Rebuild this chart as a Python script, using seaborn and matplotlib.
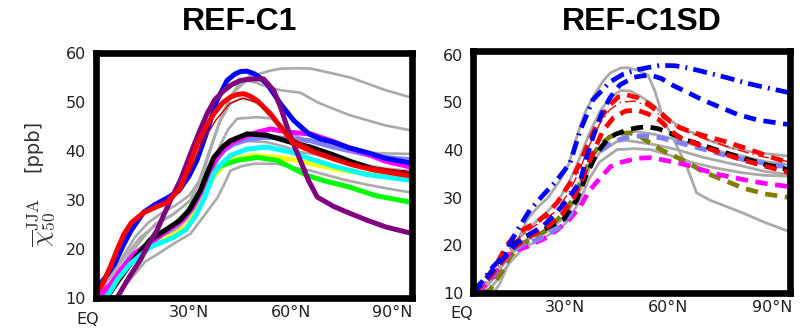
import matplotlib
matplotlib.use("Agg")
import matplotlib.pyplot as plt
import matplotlib.transforms as mtransforms
import seaborn as sns

# ---------------- data: left panel (REF-C1) ----------------
gray1_lat = [2.4, 6, 10, 14, 18, 22, 26, 30, 33, 36, 39, 42, 45, 48, 51, 54, 57, 62, 66, 72.6, 78, 82.4, 88, 95.6]
gray1_val = [11.5, 14, 18, 22.5, 25.5, 27.5, 29, 31, 34, 40, 46, 51, 54, 55.5, 55.9, 56.5, 56.9, 57, 56.9, 55.9, 55, 53.9, 52.5, 51]
gray2_lat = [4, 8, 12, 16, 20, 25, 30.4, 34, 37, 40, 43, 47, 50, 53, 57, 62.8, 68, 72.6, 77, 82.4, 88, 95.6]
gray2_val = [10.5, 14, 18.5, 22, 25.2, 27, 30, 35, 42, 48, 52, 54.5, 54, 53.2, 52.5, 52, 50, 48.7, 47.5, 46.4, 45.3, 44.3]
gray3_lat = [3, 7, 11, 15.6, 20.6, 25.5, 30.4, 33, 36, 39, 42.2, 45, 48.1, 51, 54, 58, 62, 68, 75, 82, 88, 95.6]
gray3_val = [11, 14.5, 18.5, 22.5, 25.2, 27.3, 30, 34, 40, 46, 49.8, 50.8, 50.5, 49.5, 47, 44, 42, 40, 38.5, 37.3, 36.5, 36]
gray4_lat = [4, 8, 12, 16, 21, 25.5, 30, 33, 36, 39, 41.5, 44.2, 50.1, 55, 58, 62, 68, 75, 82, 88, 95.6]
gray4_val = [10.5, 13.5, 17.5, 20.5, 22.5, 23.9, 26.5, 30, 35.5, 41, 44.5, 46.7, 47, 46.7, 45, 43, 41.5, 40.5, 39.8, 39.6, 39.5]
gray5_lat = [5, 9, 13, 17, 22, 27, 31, 34, 37, 40, 43, 46.1, 53, 58, 62, 67.7, 74, 82.4, 88, 95.6]
gray5_val = [10.5, 14, 18, 20.5, 22.5, 24.5, 27.5, 31.5, 36.5, 39.8, 41.5, 42.2, 41.9, 41, 40, 39.3, 38, 36.5, 35.5, 34.5]
gray6_lat = [8, 11, 14, 17, 20.6, 25, 30.4, 34, 38.3, 40.5, 42.2, 45.5, 49.1, 56, 60, 65.8, 70, 76, 82, 88, 95.6]
gray6_val = [10, 12.5, 15, 17.5, 19, 21, 23.2, 26.5, 30.5, 33.5, 36.1, 37, 37.5, 37.5, 36.8, 36.1, 35.3, 34.2, 33.3, 32.5, 31.6]

yellow_lat = [5, 9, 12.7, 18.6, 25.5, 29, 32, 34.5, 37.3, 40, 42.2, 49.1, 56, 62, 68, 75, 82, 88, 95.6]
yellow_val = [10, 14, 17.5, 21, 23, 24.5, 27.5, 31, 35, 37, 38.2, 39.2, 38.8, 38.2, 37.2, 36.2, 35.5, 35, 34.5]
green_lat = [4.8, 8, 12, 16, 19.6, 25, 29.4, 33, 36, 39, 44.2, 50.1, 56, 59.9, 64.8, 70, 77.5, 85, 95.6]
green_val = [10, 13, 17, 20, 22.8, 24.5, 27.5, 31.5, 35, 37, 38.2, 38.8, 38.2, 36.8, 35.1, 34, 32.7, 31, 29.6]
periw_lat = [4, 7, 10, 13.7, 18.6, 23.5, 28, 31, 33.3, 35.5, 38.2, 40.5, 43.1, 47, 52, 56, 59.9, 65.8, 72, 77, 83, 89, 95.6]
periw_val = [10.5, 13, 16, 19, 21.3, 23.7, 26, 28.5, 31.3, 35, 38.5, 40.3, 41.5, 42.4, 42.9, 42.8, 42.6, 42.2, 41, 40.2, 39.3, 38.7, 38.3]
magenta_lat = [3.8, 7, 10, 13.7, 18.6, 23.5, 28, 31, 33.3, 35.5, 38.2, 40.5, 43.1, 47, 50, 54, 59.9, 65.8, 72.6, 77, 82.4, 88, 95.6]
magenta_val = [10.9, 13, 16, 19, 21.5, 23.8, 26, 28.5, 31.5, 35.5, 38.8, 40.7, 42, 43.2, 43.9, 44.6, 43.9, 43.6, 42, 40.8, 39.5, 38, 36.8]
black_lat = [5.8, 9, 13.7, 18.6, 23.5, 27, 30, 33.3, 35.3, 37.3, 40, 42.2, 47.1, 53, 59.9, 65.8, 72.6, 77.5, 84, 90, 95.6]
black_val = [10.2, 13.5, 18, 22, 24.2, 25.8, 28, 32, 35.5, 38.8, 41, 42.2, 43.6, 43.3, 41.9, 40.9, 39.3, 38, 36.5, 35.8, 35.5]
cyan_lat = [5.8, 9, 12.7, 18.6, 25.5, 29, 32, 34.5, 37.3, 40, 42.2, 47.1, 53, 59.9, 65.8, 72.6, 82.4, 95.6]
cyan_val = [10.3, 14, 17.1, 20.5, 22.5, 24, 27, 30.5, 35.5, 37.8, 39.2, 40.5, 40.9, 39.9, 38.5, 37, 35.3, 34.1]
blue_lat = [2.4, 5, 8, 10.7, 13, 16.6, 20, 23.5, 27, 30, 32.3, 35, 38.3, 41.2, 43.5, 45.1, 47, 49.1, 51, 53, 57, 60.9, 65.3, 69, 72.6, 77, 82.4, 88, 95.6]
blue_val = [12, 14, 17, 21, 24, 27.6, 29.2, 30.5, 32, 35, 38.2, 43.5, 50.5, 54.5, 55.8, 56.3, 56.4, 55.9, 55, 53.8, 49.7, 46.3, 43.6, 42.5, 41.9, 40.8, 39.8, 38.6, 37.6]
purple_lat = [8.8, 12, 15.6, 18, 20.6, 22.5, 24.5, 27.4, 30.4, 33, 35.3, 37.5, 40.2, 42.5, 45.1, 48.5, 52, 55, 57, 58.9, 60.8, 62.8, 65.2, 67.8, 72.6, 77, 82.4, 88, 95.6]
purple_val = [10.2, 14, 17.8, 21, 24, 27, 30, 34.1, 39.5, 44, 47.7, 50.5, 52.4, 53.6, 54.5, 54.8, 54.8, 52.4, 49, 45, 41.5, 38.2, 34.1, 30.7, 28.8, 27.5, 26, 24.6, 23.3]
red_lat = [2.4, 4.5, 6.8, 8.8, 10.7, 13, 16.6, 20, 23.5, 27.4, 30, 32.4, 35, 37.3, 40, 42.2, 44, 46.1, 48, 50.1, 54, 57, 60.9, 65.8, 72.6, 78, 84, 90, 95.6]
red_val = [11, 13, 16.5, 20, 23, 25.5, 27.5, 28.6, 29.6, 32.5, 37, 41.6, 45, 47.7, 50, 51.1, 51.6, 51.8, 51.3, 50.4, 47.7, 45, 41.6, 40.2, 38.5, 37.3, 36.3, 35.6, 35]
red2_lat = [30, 34, 38, 42, 46, 50, 54, 60, 70, 80, 95.6]
red2_val = [35.5, 42, 46.5, 49.8, 50.9, 50, 47.5, 42.8, 39.2, 37.2, 35.8]

# ---------------- data: right panel (REF-C1SD) ----------------
sgray1_lat = [9.2, 11, 14, 16.8, 19, 22, 25, 28.6, 31, 33.4, 35.5, 38.2, 41, 43.1, 46, 48, 51, 54, 56, 57.5, 58.4, 60, 62, 65.3, 68.2, 72, 77, 81.6, 88, 95.5]
sgray1_val = [10, 12, 17, 22, 25.5, 28, 30, 33.8, 37, 42.9, 47.5, 51.3, 54.5, 56.2, 57.2, 57.3, 56.8, 55.8, 52.5, 49, 46.4, 44.3, 41.5, 36.5, 31, 29.5, 28.1, 26.8, 24.8, 22.8]
sgray2_lat = [5, 8, 12, 16, 20, 24, 28, 31, 34, 37, 40, 43, 46, 49, 52, 55, 58, 62, 66, 72, 78, 85, 95.5]
sgray2_val = [10, 12, 16, 21, 24, 26.5, 29.5, 33, 38, 43.5, 48, 51, 52.5, 52.4, 51.2, 49.8, 47.8, 45.5, 44, 42, 40.5, 39.5, 38.7]
sgray3_lat = [4, 8, 12, 16, 20, 25, 30, 34, 37, 40, 45, 48, 52.8, 57, 62.4, 70, 76, 81.8, 88, 95.5]
sgray3_val = [10, 12.5, 16.5, 19.5, 21.5, 23, 26, 31, 36, 39.5, 41.8, 42, 41.5, 41, 40.1, 38.5, 37.5, 36.6, 35.5, 34.8]
sgray4_lat = [7, 10, 14, 18, 22, 26, 30, 34, 37, 40, 45, 50, 54.7, 60, 67.3, 74, 81.8, 88, 95.5]
sgray4_val = [10, 12.5, 16.5, 19.5, 21, 22.5, 24.5, 29, 34, 37.5, 40.1, 40.3, 40.1, 39, 37.3, 36.2, 35.2, 34.7, 34.5]
sgray5_lat = [5, 9, 13, 17, 21, 25, 29, 33, 36, 39, 43.1, 47, 50.8, 56, 62.4, 70, 76, 81.8, 88, 95.5]
sgray5_val = [10, 13, 17.5, 20.5, 22, 23.5, 25.5, 30, 35.5, 40, 42.9, 43.7, 43.9, 43.3, 42.2, 40.5, 39.5, 38.7, 37.6, 36.9]

olive_lat = [6, 8.2, 11.9, 14, 18, 21.8, 24.5, 27.6, 30.5, 33.4, 35.5, 37.5, 40, 43, 46, 48.8, 51.5, 54.6, 58, 61.5, 65.3, 70, 75, 81.8, 88, 95.5]
olive_val = [10, 10.7, 14.8, 17.7, 20.5, 21.8, 23.2, 25.3, 27.5, 31.6, 35, 38.5, 41, 42.8, 43.5, 43.6, 43, 41.5, 40, 38.8, 37.5, 35.5, 34, 32, 30.8, 30]
smag_lat = [4.4, 8, 11, 14, 16.5, 18.9, 21, 23.7, 27.6, 31, 34.3, 37, 40, 43.1, 45.5, 48.8, 51.5, 54.6, 58, 62, 65.3, 70, 75, 81.8, 88, 95.5]
smag_val = [10, 12.5, 15.5, 18.4, 19.2, 19.7, 20.5, 21.3, 23.2, 25.3, 28.1, 31.5, 34, 36.5, 37.3, 37.9, 38.3, 38.4, 38, 37.4, 36.9, 35.8, 34.8, 33.8, 33, 32.3]
speriw_lat = [3.5, 7, 11, 14, 18, 21.8, 25, 28.5, 31.5, 35, 38, 40.5, 43, 46, 48.8, 52, 57.5, 61, 65.3, 70, 75, 81.8, 88, 95.5]
speriw_val = [10, 12.3, 15.5, 18.5, 20.3, 21.1, 22.5, 23.9, 26.5, 33.7, 38, 40, 41.3, 42.3, 42.8, 43, 42.6, 42, 41.1, 40.2, 39.2, 38, 37.2, 36.3]
sblack_lat = [3.2, 7, 11, 14, 18, 23.7, 29.5, 33.4, 36, 39.2, 42, 44.5, 47.9, 51, 53.7, 57, 61, 65.3, 70, 75, 81.8, 88, 95.5]
sblack_val = [10, 12.5, 16, 19.8, 21.8, 23.3, 25.4, 29.6, 34.5, 39.4, 42, 43.3, 44.2, 44.7, 44.9, 44.5, 43.4, 42.1, 41, 39.8, 38.3, 37, 35.8]
sred2_lat = [3.2, 7, 11, 15, 20, 25, 29, 32.5, 35, 37.5, 40.9, 44, 47.5, 50.8, 54, 57, 60, 63.3, 68, 74, 80, 86, 95.5]
sred2_val = [10, 12.5, 16, 19.5, 22, 24, 26.5, 30, 34, 38.5, 44, 46.8, 48.2, 48.4, 47.6, 46.5, 44.5, 42.6, 41.3, 39.7, 38.3, 37, 35.2]
sred_dd_lat = [3.5, 8, 12, 17, 22, 27, 31, 34, 37, 40, 43, 46, 50, 54, 58, 63, 70, 78, 86, 95.5]
sred_dd_val = [10, 13, 17.5, 22, 24.5, 27, 31, 35.5, 41, 45.5, 48.5, 50, 50.3, 49.2, 47, 44.5, 42.5, 40.5, 38.8, 37.5]
sred1_lat = [3.2, 6, 10.2, 13, 16, 21.8, 24.5, 27.6, 31.4, 34.3, 37, 40, 43, 45.5, 47.9, 51, 54, 57.5, 60.5, 63.3, 68, 73, 77.8, 84, 90.3, 95.5]
sred1_val = [10, 12, 16.3, 20, 22.6, 24.9, 26.5, 28.9, 33.1, 37.3, 42, 46.5, 49.5, 51.2, 51.6, 51, 49.8, 48, 46, 44.7, 43.5, 42.5, 41.5, 40, 38.4, 37.3]
sblue2_lat = [3.2, 7, 11, 16, 20, 23.5, 27, 30.5, 34.3, 36, 38, 40.5, 43, 45.9, 50, 54.6, 58, 61.5, 65.3, 70, 75, 80, 86, 95.5]
sblue2_val = [10, 13, 16.5, 20.5, 22.5, 24, 26.5, 29.5, 33.3, 38, 42.6, 47.5, 51, 53.7, 55.3, 55.8, 55, 53.5, 52.2, 50.5, 49, 47.5, 46.3, 45.3]
sblue1_lat = [3.2, 6, 9, 11.9, 15.5, 19.7, 23.5, 27.6, 31.4, 34.3, 38, 43, 47, 51, 57.5, 62, 66, 71, 77, 83, 89, 95.5]
sblue1_val = [10.5, 12.5, 15.5, 17.6, 22.5, 27.4, 30.5, 33.7, 37.3, 44, 50.5, 54.3, 56, 56.9, 57.8, 57.7, 57.2, 56.3, 55.2, 54, 53, 52]

ytick_vals = [10, 20, 30, 40, 50, 60]
xtick_vals = [30, 60, 90]
xtick_labels = ["30°N", "60°N", "90°N"]
titles = ["REF-C1", "REF-C1SD"]

# ---------------- figure ----------------
sns.set_theme(style="white")
plt.rcParams["font.family"] = ["DejaVu Sans"]
plt.rcParams["mathtext.fontset"] = "cm"

fig = plt.figure(figsize=(8.08, 3.31), dpi=100)
axL = fig.add_axes([0.1182, 0.0982, 0.3911, 0.7402])
axR = fig.add_axes([0.5854, 0.1148, 0.3923, 0.7311])

GRAY = "#aaaaaa"
lw_c = 3.6
lw_g = 1.9

def line(ax, x, y, color, lw, ls="-"):
    sns.lineplot(x=x, y=y, ax=ax, color=color, linewidth=lw, linestyle=ls,
                 estimator=None, sort=False, legend=False)

# left panel
for la, va in [(gray1_lat, gray1_val), (gray2_lat, gray2_val), (gray3_lat, gray3_val),
               (gray4_lat, gray4_val), (gray5_lat, gray5_val), (gray6_lat, gray6_val)]:
    line(axL, la, va, GRAY, lw_g)
line(axL, yellow_lat, yellow_val, "#ffff00", lw_c)
line(axL, green_lat, green_val, "#00ff00", lw_c)
line(axL, periw_lat, periw_val, "#8080ff", lw_c)
line(axL, magenta_lat, magenta_val, "#ff00ff", lw_c)
line(axL, black_lat, black_val, "#000000", lw_c)
line(axL, cyan_lat, cyan_val, "#00ffff", lw_c)
line(axL, blue_lat, blue_val, "#0000ff", lw_c)
line(axL, purple_lat, purple_val, "#800080", lw_c)
line(axL, red_lat, red_val, "#ff0000", lw_c)
line(axL, red2_lat, red2_val, "#cc0000", 1.0)

# right panel
dash = (0, (2.6, 1.6))
for la, va in [(sgray1_lat, sgray1_val), (sgray2_lat, sgray2_val), (sgray3_lat, sgray3_val),
               (sgray4_lat, sgray4_val), (sgray5_lat, sgray5_val)]:
    line(axR, la, va, GRAY, 2.0)
line(axR, olive_lat, olive_val, "#808000", 3.4, dash)
line(axR, smag_lat, smag_val, "#ff00ff", 3.4, dash)
line(axR, speriw_lat, speriw_val, "#8080ff", 3.4, dash)
line(axR, sblack_lat, sblack_val, "#000000", 3.4, dash)
line(axR, sred2_lat, sred2_val, "#ff0000", 3.4, dash)
line(axR, sred_dd_lat, sred_dd_val, "#ff0000", 1.0, (0, (8, 3, 1, 3)))
line(axR, sred1_lat, sred1_val, "#ff0000", 3.4, dash)
line(axR, sblue2_lat, sblue2_val, "#0000ff", 3.4, dash)
line(axR, sblue1_lat, sblue1_val, "#0000ff", 3.4, (0, (3.0, 1.3, 0.4, 1.3)))

limits = [(axL, (2.4, 95.6), (10, 60)), (axR, (3.2, 95.3), (10, 60.8))]
for ax, xl, yl in limits:
    ax.set_xlim(*xl)
    ax.set_ylim(*yl)
    ax.set_xticks(xtick_vals)
    ax.set_xticklabels(xtick_labels)
    ax.set_yticks(ytick_vals)
    ax.set_yticklabels([str(v) for v in ytick_vals])
    ax.tick_params(axis="both", length=0, labelsize=11.5, labelcolor="#222222")
    ax.tick_params(axis="x", pad=5)
    ax.tick_params(axis="y", pad=7)
    ax.set_xlabel("")
    ax.set_ylabel("")
    ax.grid(False)
    for s in ax.spines.values():
        s.set_visible(True)
        s.set_color("black")
        s.set_linewidth(4.8)
    trans = mtransforms.blended_transform_factory(ax.transData, ax.transAxes)
    ax.text(0, -0.085, "EQ", transform=trans, ha="center", va="center",
            fontsize=11.5, color="#222222", clip_on=False)

# y-axis label: math symbol part and unit part
fig.text(41 / 808, 1 - 222 / 331, r"$\overline{\chi}^{\rm JJA}_{50}$",
         rotation=90, ha="center", va="center", fontsize=18, color="#333333")
fig.text(33 / 808, 1 - 146 / 331, "[ppb]",
         rotation=90, ha="center", va="center", fontsize=14, color="#333333")

for xc, t in zip([240 / 808, 642 / 808], titles):
    fig.text(xc, 1 - 22 / 331, t, ha="center", va="center", fontsize=23,
             fontweight="bold", family=["Liberation Sans", "DejaVu Sans"], color="black")

fig.savefig("out.png", dpi=100)
